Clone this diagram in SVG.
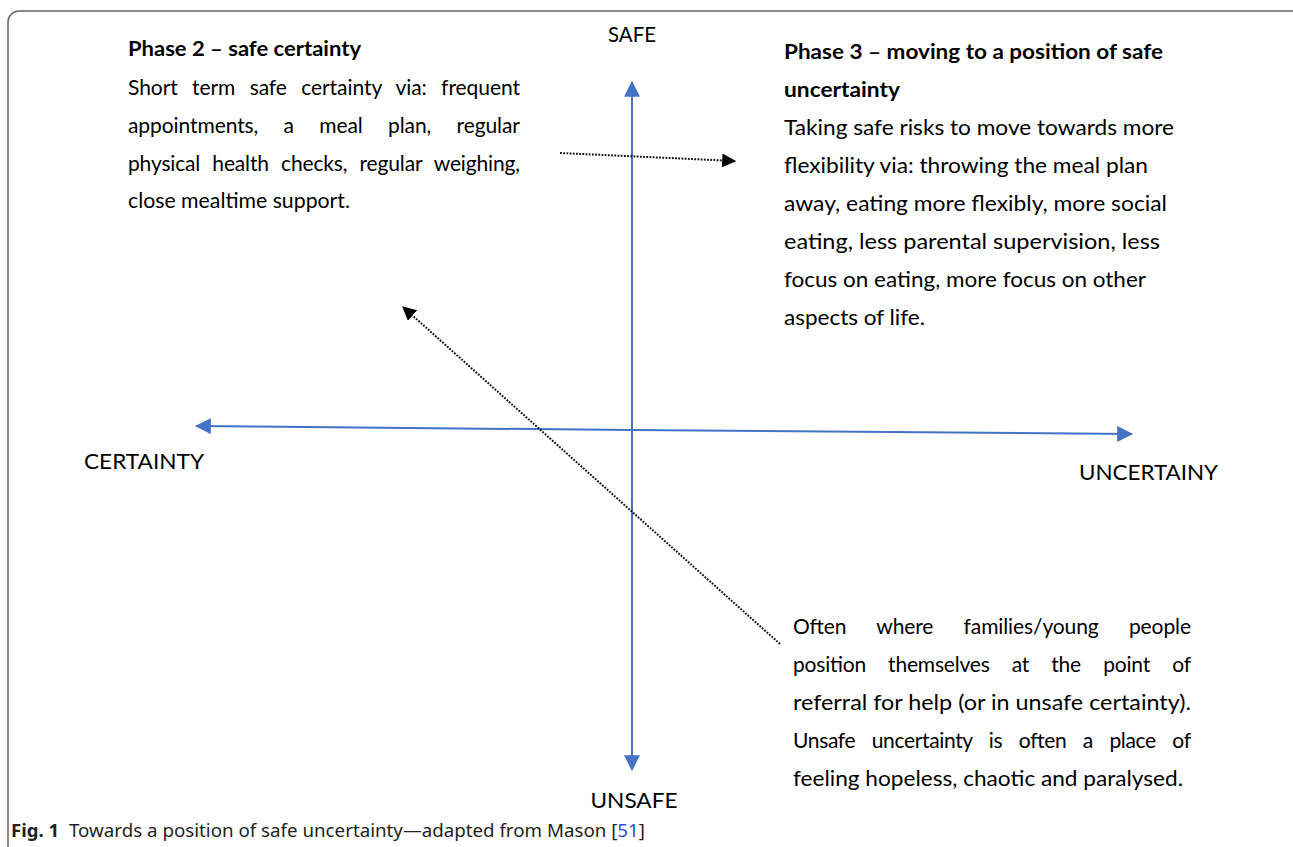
<svg xmlns="http://www.w3.org/2000/svg" width="1293" height="847" viewBox="0 0 1293 847">
  <style>
    .body { font-family: Lato, "Liberation Sans", sans-serif; font-size: 21px; fill: #000; }
    .title { font-family: Lato, "Liberation Sans", sans-serif; font-size: 21px; font-weight: bold; fill: #000; }
    .axis-label { font-family: Lato, "Liberation Sans", sans-serif; font-size: 20.5px; fill: #000; }
    .cap { font-family: "Noto Sans", "Open Sans", sans-serif; font-size: 18.5px; fill: #231f20; }
    .axis { stroke: #4472c4; stroke-width: 2; fill: none; }
    .dotted { stroke: #111; stroke-width: 2; stroke-dasharray: 1.8 1.4; fill: none; }
  </style>
  <defs>
    <marker id="blueHead" markerUnits="userSpaceOnUse" markerWidth="16" markerHeight="16" viewBox="0 0 14 14" refX="13" refY="7" orient="auto">
      <path d="M0,0 L14,7 L0,14 Z" fill="#4472c4"/>
    </marker>
    <marker id="blackHead" markerUnits="userSpaceOnUse" markerWidth="14" markerHeight="14" viewBox="0 0 12 12" refX="11" refY="6" orient="auto">
      <path d="M0,0 L12,6 L0,12 Z" fill="#000"/>
    </marker>
  </defs>

  <rect width="1293" height="847" fill="#fff"/>
  <!-- figure frame, open at the bottom edge -->
  <rect x="8" y="11" width="1295" height="900" rx="11" fill="none" stroke="#666" stroke-width="1.5"/>

  <g id="connectors">
    <line class="axis" x1="632" y1="770" x2="632" y2="82" marker-end="url(#blueHead)"/>
    <line class="axis" x1="632" y1="82" x2="632" y2="770" marker-end="url(#blueHead)"/>
    <line class="axis" x1="632" y1="430" x2="196" y2="426" marker-end="url(#blueHead)"/>
    <line class="axis" x1="632" y1="430" x2="1132" y2="434" marker-end="url(#blueHead)"/>
    <line class="dotted" x1="780" y1="644" x2="403" y2="307" marker-end="url(#blackHead)"/>
    <line class="dotted" x1="560" y1="153" x2="735" y2="161" marker-end="url(#blackHead)"/>
  </g>

  <g id="axis-labels">
    <text class="axis-label" x="632" y="42" text-anchor="middle" textLength="48" lengthAdjust="spacingAndGlyphs">SAFE</text>
    <text class="axis-label" x="84" y="469" textLength="120" lengthAdjust="spacingAndGlyphs">CERTAINTY</text>
    <text class="axis-label" x="1079" y="480" textLength="139" lengthAdjust="spacingAndGlyphs">UNCERTAINY</text>
    <text class="axis-label" x="634" y="808" text-anchor="middle" textLength="87" lengthAdjust="spacingAndGlyphs">UNSAFE</text>
  </g>

  <g id="phase2">
    <text class="title" x="128" y="56" textLength="233" lengthAdjust="spacingAndGlyphs">Phase 2 – safe certainty</text>
    <text class="body" x="128" y="95" word-spacing="9" textLength="392" lengthAdjust="spacing">Short term safe certainty via: frequent</text>
    <text class="body" x="128" y="133" word-spacing="20" textLength="392" lengthAdjust="spacing">appointments, a meal plan, regular</text>
    <text class="body" x="128" y="171" word-spacing="7" textLength="392" lengthAdjust="spacing">physical health checks, regular weighing,</text>
    <text class="body" x="128" y="208" textLength="222" lengthAdjust="spacingAndGlyphs">close mealtime support.</text>
  </g>

  <g id="phase3">
    <text class="title" x="784" y="59" textLength="379" lengthAdjust="spacingAndGlyphs">Phase 3 – moving to a position of safe</text>
    <text class="title" x="784" y="97" textLength="116" lengthAdjust="spacingAndGlyphs">uncertainty</text>
    <text class="body" x="784" y="135" textLength="390" lengthAdjust="spacingAndGlyphs">Taking safe risks to move towards more</text>
    <text class="body" x="784" y="173" textLength="364" lengthAdjust="spacingAndGlyphs">flexibility via: throwing the meal plan</text>
    <text class="body" x="784" y="211" textLength="383" lengthAdjust="spacingAndGlyphs">away, eating more flexibly, more social</text>
    <text class="body" x="784" y="249" textLength="376" lengthAdjust="spacingAndGlyphs">eating, less parental supervision, less</text>
    <text class="body" x="784" y="287" textLength="362" lengthAdjust="spacingAndGlyphs">focus on eating, more focus on other</text>
    <text class="body" x="784" y="325" textLength="141" lengthAdjust="spacingAndGlyphs">aspects of life.</text>
  </g>

  <g id="referral-note">
    <text class="body" x="793" y="634" word-spacing="25" textLength="398" lengthAdjust="spacing">Often where families/young people</text>
    <text class="body" x="793" y="672" word-spacing="17" textLength="398" lengthAdjust="spacing">position themselves at the point of</text>
    <text class="body" x="793" y="710" textLength="398" lengthAdjust="spacingAndGlyphs">referral for help (or in unsafe certainty).</text>
    <text class="body" x="793" y="748" word-spacing="11.5" textLength="398" lengthAdjust="spacing">Unsafe uncertainty is often a place of</text>
    <text class="body" x="793" y="786" textLength="390" lengthAdjust="spacingAndGlyphs">feeling hopeless, chaotic and paralysed.</text>
  </g>

  <g id="caption">
    <text class="cap" x="11" y="837"><tspan font-weight="bold">Fig. 1</tspan><tspan x="69" textLength="576" lengthAdjust="spacingAndGlyphs">Towards a position of safe uncertainty—adapted from Mason [<tspan fill="#2f4fd0">51</tspan>]</tspan></text>
  </g>
</svg>
